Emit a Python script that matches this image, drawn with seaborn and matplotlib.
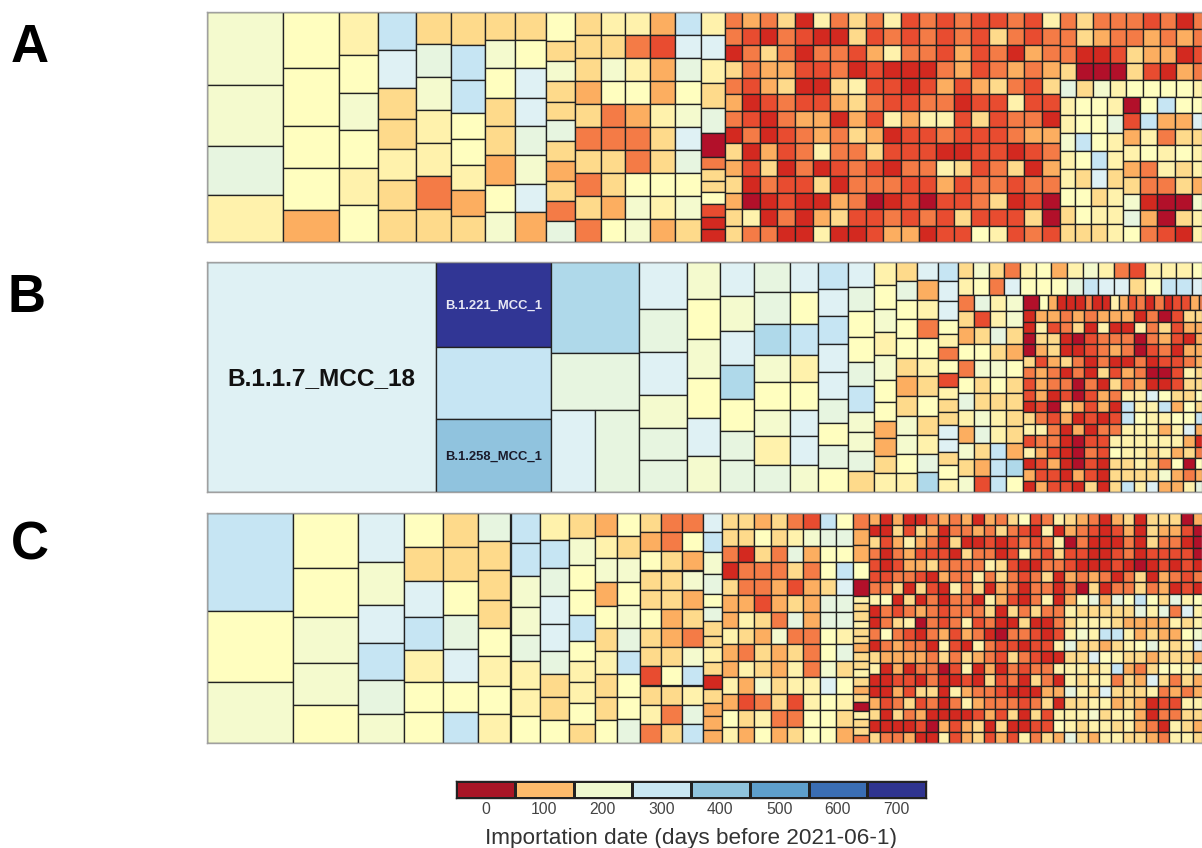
import numpy as np
import seaborn as sns
import matplotlib
matplotlib.use("Agg")
import matplotlib.pyplot as plt
from matplotlib.patches import Rectangle
from matplotlib.colors import LinearSegmentedColormap, ListedColormap

sns.set_theme(style="white")
plt.rcParams['font.family'] = ['Liberation Sans', 'DejaVu Sans']

# ---- importation date classes: code -> days before 2021-06-1
CODE_DAYS = {'0': 0, '1': 15, '2': 35, '3': 60, '4': 85, '5': 110, '6': 130, '7': 155,
             '8': 190, '9': 230, 'a': 270, 'b': 320, 'c': 370, 'd': 420, 'z': 700}
RAMP_DAYS = [0, 15, 35, 60, 85, 110, 130, 155, 190, 230, 270, 320, 370, 420, 500, 600, 700]
RAMP_COLORS = ['#B2102A', '#D42A20', '#E84C30', '#F47C46', '#FCAE60', '#FEDB8C', '#FFF2AC', '#FFFEBF',
               '#F4FACE', '#E7F5E0', '#DFF1F4', '#C6E5F3', '#AFD9EA', '#90C3DE', '#5E9FCC', '#3A6EB4', '#313695']
LEGEND_DAYS = [0, 100, 200, 300, 400, 500, 600, 700]
LEGEND_COLORS = ['#A81526', '#FDBB6C', '#EEF7CF', '#C9E7F3', '#90C4DE', '#5E9FCC', '#3A6EB4', '#2F3490']
LABELS = ['B.1.1.7_MCC_18', 'B.1.221_MCC_1', 'B.1.258_MCC_1']

# ---- panel A
A_WIDTHS = [76, 56, 39, 38.3, 35, 34, 29.3, 31.7, 28.3, 26, 24, 25.7, 25, 25.3, 24]
A_SIZES = [
    [218, 183, 149, 140], [168, 175, 125, 127, 95], [130, 113, 112, 113, 110, 112],
    [113, 115, 92, 91, 94, 90, 95], [96, 100, 97, 100, 100, 97, 100],
    [100, 103, 100, 78, 79, 73, 78, 79], [85, 83, 90, 85, 87, 88, 82, 90],
    [85, 83, 90, 85, 87, 85, 85, 90], [88, 58, 62, 62, 55, 61, 62, 60, 60, 60, 62],
    [68] * 10, [68] * 10, [68] * 10, [68] * 10, [68] * 10,
    [70, 72, 73, 75, 74, 71, 38, 34, 36, 35, 39, 35, 40],
]
A_CODES = ['8896', '77774', '678767', 'ba55655', '5986635', '5bb77645', '58755478', '57aa98a4',
           '75855954539', '5554535353', '6587335547', '6367433788', '4244655764', 'ba978a9785',
           '6a65903557211']
A_DENSE = [
    '3435163536232322326', '3213211523232325323', '1353133246332423143', '5344223121113423434',
    '3245115622124245325', '4123224532233122622', '3213441426466252331', '1312343541223222344',
    '5142363352221122123', '4251312321336523514', '5132251333224233233', '4012114301202235120',
    '5613145223232522250', '5331161124412276232',
]
A_TOP = ['353332313', '354334343', '311254412', '500052143']
A_STRIP = '958677776'
A_LOW_LEFT = ['6776', '6779', '8b76', '67b6', '65a5', '7756', '5766', '5556']
A_LOW_RIGHT = ['07b77', '2b44a', '46355', '67676', '43656', '53354', '81008', '94056', '73216']

# ---- panel B
B_WIDTHS = [229.3, 115, 87.3, 48.3, 33.3, 33.3, 36, 28, 30, 26, 22.7, 20.7, 20.7, 20]
B2_SIZES = [255, 217, 220]
B3_SIZES = [275, 170, 247]
B3_LOW_SIZES = [132, 130]
B3_LOW_CODES = 'a9'
B_SIZES = [
    [140, 132, 128, 98, 99, 95], [112, 120, 118, 118, 117, 107], [102, 106, 102, 102, 95, 88, 97],
    [90, 97, 93, 80, 85, 80, 85, 82], [90, 97, 93, 80, 85, 80, 85, 82],
    [80, 83, 84, 83, 82, 71, 69, 68, 72], [75, 73, 77, 75, 73, 77, 60, 60, 60, 62],
    [68, 72, 70, 70, 75, 65, 57, 53, 55, 50, 57],
    [57, 58, 55, 60, 58, 55, 59, 61, 57, 57, 58, 57],
    [55, 60, 55, 60, 58, 55, 59, 61, 57, 57, 55, 60],
    [57, 60, 58, 42, 38, 40, 40, 40, 37, 40, 38, 42, 40, 40, 40, 40],
]
B_CODES = ['a9a899', '8787a8', 'a8ac799', '99c87869', 'a7b67aa8', 'babaa9797', 'a9779b8895',
           '67868774456', '597775458876', 'a4637657569c', 'baa76372655aa576']
B_STRIP1 = '5853674686326667'
B_STRIP2 = '673a7779baa57bba'
B_LOW_LEFT = ['3968', '5268', '4595', '7754', '3887', '7575', '9555', '6865', '4965', '85b4', '54bc', '82b7']
B_THIN_SIZES = [47, 23, 27, 26, 24, 28, 20, 28, 24, 23, 25, 25, 25, 25, 27, 23, 25, 25, 25, 25]
B_THIN = '07411131164231312243'
B_DENSE = [
    '144343444130255', '162351611635244', '055102333034214', '045112343023144',
    '524531311312234', '343131524300265', '243303153411255', '2412024366a7557',
    '12054241b66b475', '53241212b76677b', '6631413366646a4', '233102266666641',
    '642103276656453', '124102155653707', '422142155558434', '14221515b6a4469',
]

# ---- panel C
C_WIDTHS = [85.7, 65, 46.7, 38.7, 34.7, 32.7, 29.3, 29, 26, 22.3, 23.3, 21, 20.7, 20.7, 19]
C_SIZES = [
    [295, 213, 182], [165, 146, 139, 125, 115], [146, 130, 114, 111, 102, 87], [103, 102, 106, 100, 97, 88, 94],
    [103, 102, 100, 103, 100, 90, 92], [85, 86, 90, 84, 83, 90, 85, 87], [91, 97, 95, 83, 79, 83, 80, 82],
    [80, 85, 83, 85, 80, 70, 68, 70, 69], [75, 80, 75, 75, 80, 60, 63, 62, 63, 57],
    [70, 66, 72, 70, 67, 70, 68, 70, 68, 69], [68, 68, 72, 68, 69, 70, 68, 70, 65, 72],
    [58] * 12, [58] * 12, [58] * 12, [58, 60, 65, 60, 40, 40, 45, 35, 45, 37, 43, 42, 38, 42, 40],
]
C_CODES = ['b78', '77887', 'a8ab98', '75ab677', '5579a7b', '95557676', 'bb889667', '6b9aa9557',
           '5877b76675', '4684756557', '7587 89b779'.replace(' ', ''), '547557552563', '335554457535',
           '37484538b69b', 'ab8979556515444']
C_BLOCK = ['554532b7', '55756899', '31539477', '1333537b', '5334245a', '44245499', '46539499', '65483376',
           '43545379', '46546385', '648566a7', '42352676', '75633775', '64745774']
C_NARROW_SIZES = [48, 48, 52, 50, 50, 22, 25, 28, 23, 22, 22, 28, 25, 25, 25, 25, 25, 25, 25, 25, 25, 23, 24]
C_NARROW = '34470655655455654506553'
C_DENSE = [
    '41411343414357236', '11525413343532161', '52464315112123236', '31342221533126325',
    '21244533336521133', '22332143363532351', '33515216351431331', '67151313316421361', '13234323335153533',
    '13560323623115113', '37321342431033212', '13433162163221226', '54444353543253211', '61413302614132336',
    '11221311215231531', '11425516433211144', '42352313643332351', '51534111124251526',
    '11112042451511227', '53341162452426354',
]
C_TOP = ['5431451555044', '4321241544204', '0311131533100', '2211231222201', '2111210121211',
         '4343135143230', '3051335341210']
C_LOW = ['479497b759677', '6555559693a65', '5666544446566', '686bb64544786', '95545679656a5',
         '55a7655455545', '6656b43577686', '6566354a53546', '965a555634345', '5566454122665',
         '6685664133556', '6566564316546', '9546655436656']


# ---- treemap construction
def stack(sizes, codes):
    return ('v', list(sizes), list(codes))


def rows(strs):
    return ('v', [1] * len(strs), [('h', [1] * len(s), list(s)) for s in strs])


def labelled(code, idx):
    return ('L', code, idx)


fig = plt.figure(figsize=(12.02, 8.48), dpi=100)
W, H = 1202.0, 848.0
edge = '#222222'
CMAP = LinearSegmentedColormap.from_list('days', [(d / 700.0, c) for d, c in zip(RAMP_DAYS, RAMP_COLORS)], N=1024)


def draw(ax, node, x0, x1, y0, y1):
    if isinstance(node, str):
        ax.add_patch(Rectangle((x0, y0), x1 - x0, y1 - y0, facecolor=CMAP(CODE_DAYS[node] / 700.0),
                               edgecolor=edge, linewidth=0.95))
        return
    if node[0] == 'L':
        draw(ax, node[1], x0, x1, y0, y1)
        idx = node[2]
        fs, col = [(17.6, '#111111'), (9.4, '#e8e8f4'), (9.4, '#1a1a2a')][idx]
        ax.text((x0 + x1) / 2, (y0 + y1) / 2 + 0.005, LABELS[idx], ha='center', va='center',
                fontsize=fs, color=col, fontweight='bold', zorder=4)
        return
    kind, sizes, kids = node
    total = float(sum(sizes))
    pos = 0.0
    for s, k in zip(sizes, kids):
        a, b = pos / total, (pos + s) / total
        if kind == 'v':
            draw(ax, k, x0, x1, y0 + a * (y1 - y0), y0 + b * (y1 - y0))
        else:
            draw(ax, k, x0 + a * (x1 - x0), x0 + b * (x1 - x0), y0, y1)
        pos += s


def panel(top, bottom, widths_nodes):
    ax = fig.add_axes([207 / W, 1 - bottom / H, 995 / W, (bottom - top) / H])
    ax.set_xlim(0, 995)
    ax.set_ylim(1, 0)
    x = 0.0
    for w, n in widths_nodes:
        draw(ax, n, x, x + w, 0, 1)
        x += w
    ax.set_xticks([])
    ax.set_yticks([])
    for s in ax.spines.values():
        s.set_edgecolor('#a0a0a0')
        s.set_linewidth(1.0)
        s.set_zorder(5)
    return ax


# panel A
A_nodes = [(w, stack(s, c)) for w, s, c in zip(A_WIDTHS, A_SIZES, A_CODES)]
A_nodes.append((335, rows(A_DENSE)))
A_low = ('h', [63, 87], [rows(A_LOW_LEFT), rows(A_LOW_RIGHT)])
A_nodes.append((150, ('v', [205, 50, 437], [rows(A_TOP), rows([A_STRIP]), A_low])))
panel(12, 242, A_nodes)

# panel B
b1 = labelled('a', 0)
b2 = ('v', B2_SIZES, [labelled('z', 1), 'b', labelled('d', 2)])
b3_low = ('h', B3_LOW_SIZES, list(B3_LOW_CODES))
b3 = ('v', B3_SIZES, ['c', '9', b3_low])
B_nodes = [(B_WIDTHS[0], b1), (B_WIDTHS[1], b2), (B_WIDTHS[2], b3)]
B_nodes += [(w, stack(s, c)) for w, s, c in zip(B_WIDTHS[3:], B_SIZES, B_CODES)]
b_dense = ('v', [15.7, 182], [('h', B_THIN_SIZES, list(B_THIN)), rows(B_DENSE)])
b_low = ('h', [65, 185], [rows(B_LOW_LEFT), b_dense])
B_nodes.append((250, ('v', [98, 594], [rows([B_STRIP1, B_STRIP2]), b_low])))
panel(262, 492, B_nodes)

# panel C
C_nodes = [(w, stack(s, c)) for w, s, c in zip(C_WIDTHS, C_SIZES, C_CODES)]
C_nodes.append((130.7, rows(C_BLOCK)))
C_nodes.append((16, stack(C_NARROW_SIZES, C_NARROW)))
C_nodes.append((195.7, rows(C_DENSE)))
C_nodes.append((152, rows(C_TOP + C_LOW)))
panel(513, 743, C_nodes)

# panel letters
for letter, xp, yp in [('A', 30, 62), ('B', 26, 312), ('C', 30, 560)]:
    fig.text(xp / W, 1 - yp / H, letter, fontsize=38, fontweight='bold', ha='center', va='baseline', color='black')

# legend
lax = fig.add_axes([456 / W, 1 - 798 / H, 470 / W, 17 / H])
sns.heatmap(np.array([LEGEND_DAYS]), cmap=ListedColormap(LEGEND_COLORS), cbar=False, linewidths=0.9,
            linecolor='#222222', xticklabels=LEGEND_DAYS, yticklabels=False, ax=lax)
lax.collections[0].set_antialiased(False)
lax.tick_params(axis='x', length=0, labelsize=11.3, labelcolor='#444444', pad=3, labelrotation=0)
lax.set_xlabel('Importation date (days before 2021-06-1)', fontsize=16.2, color='#333333', labelpad=8)
for s in lax.spines.values():
    s.set_visible(True)
    s.set_edgecolor('#222222')
    s.set_linewidth(1.0)

fig.savefig('out.png', dpi=100)
